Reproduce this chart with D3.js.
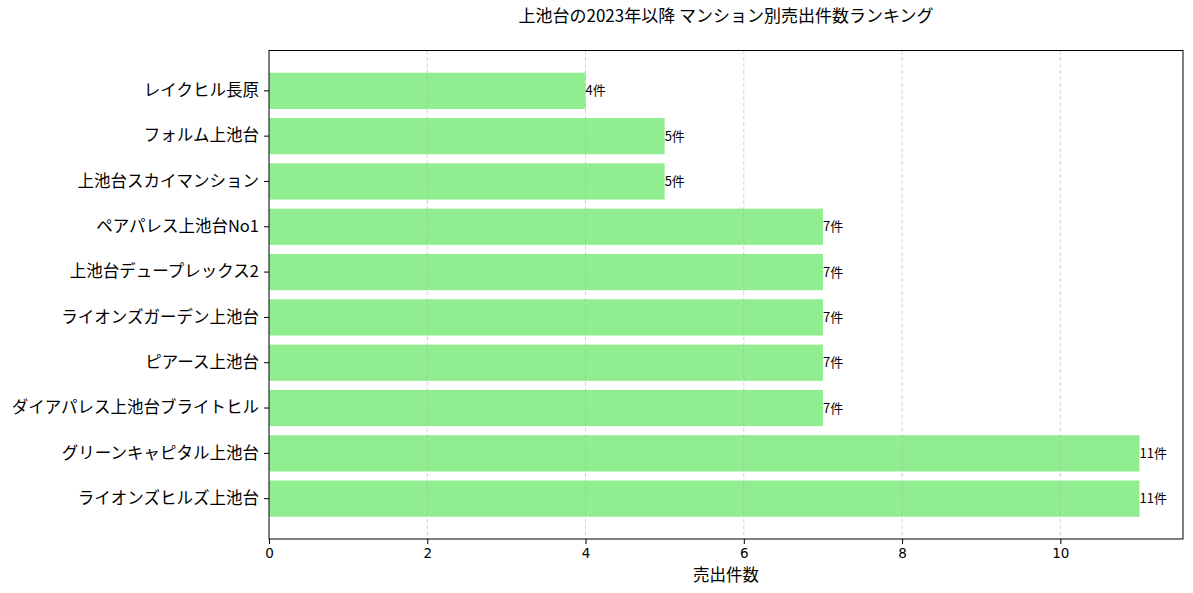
<!DOCTYPE html>
<meta charset="utf-8">
<script src="https://cdn.jsdelivr.net/npm/d3@7"></script>
<style>
  body { margin: 0; background: #fff; }
  text { font-family: "Noto Sans CJK JP", "Noto Sans", sans-serif; fill: #000; }
</style>
<div id="chart"></div>
<script>

// data, listed top to bottom as on the chart
const names = [
  "レイクヒル長原",
  "フォルム上池台",
  "上池台スカイマンション",
  "ペアパレス上池台No1",
  "上池台デュープレックス2",
  "ライオンズガーデン上池台",
  "ピアース上池台",
  "ダイアパレス上池台ブライトヒル",
  "グリーンキャピタル上池台",
  "ライオンズヒルズ上池台"
];
const counts = [4, 5, 5, 7, 7, 7, 7, 7, 11, 11];
const xTicks = [0, 2, 4, 6, 8, 10];
const titleText = "上池台の2023年以降 マンション別売出件数ランキング";
const xLabel = "売出件数";

const data = names.map((n, i) => ({name: n, count: counts[i]}));

// plot box
const W = 1193, H = 593;
const margin = {top: 50.5, right: 10, bottom: 54, left: 269};
const width = W - margin.left - margin.right,
      height = H - margin.top - margin.bottom;

const svg = d3.select("#chart")
  .append("svg")
  .attr("width", W)
  .attr("height", H);

const g = svg.append("g")
  .attr("transform", `translate(${margin.left}, ${margin.top})`);

// x like matplotlib with 5% margin
const x = d3.scaleLinear()
  .domain([0, d3.max(counts) * 1.05])
  .range([0, width]);

const y = d3.scaleBand()
  .domain(names)
  .range([0, height])
  .paddingInner(0.2)
  .paddingOuter(0.49);

// bars
g.append("g")
  .selectAll("rect")
  .data(data)
  .join("rect")
    .attr("x", x(0))
    .attr("y", d => y(d.name))
    .attr("width", d => x(d.count) - x(0))
    .attr("height", y.bandwidth())
    .attr("fill", "#90ee90");

// grid (drawn over bars, faint)
g.append("g")
  .selectAll("line")
  .data(xTicks.filter(t => t > 0))
  .join("line")
    .attr("x1", d => x(d)).attr("x2", d => x(d))
    .attr("y1", 0).attr("y2", height)
    .attr("stroke", "#b0b0b0")
    .attr("stroke-opacity", 0.7)
    .attr("stroke-width", 0.8)
    .attr("stroke-dasharray", "4,2.5");

// value labels
g.append("g")
  .selectAll("text")
  .data(data)
  .join("text")
    .attr("x", d => x(d.count))
    .attr("y", d => y(d.name) + y.bandwidth() / 2)
    .attr("dy", "0.35em")
    .style("font-size", "13px")
    .text(d => d.count + "件");

// axes
const xAxis = g.append("g")
  .attr("transform", `translate(0, ${height})`)
  .call(d3.axisBottom(x).tickValues(xTicks).tickSize(5).tickPadding(4).tickFormat(d3.format("d")));
xAxis.select(".domain").remove();
xAxis.selectAll("text").style("font-size", "13.5px").style("font-family", "'DejaVu Sans', sans-serif");

const yAxis = g.append("g")
  .call(d3.axisLeft(y).tickSize(5).tickPadding(5));
yAxis.select(".domain").remove();
yAxis.selectAll("text").style("font-size", "16.5px");

// frame
g.append("rect")
  .attr("width", width)
  .attr("height", height)
  .attr("fill", "none")
  .attr("stroke", "#000")
  .attr("stroke-width", 1);

// titles
svg.append("text")
  .attr("x", margin.left + width / 2)
  .attr("y", 22)
  .attr("text-anchor", "middle")
  .style("font-size", "17px")
  .text(titleText);

svg.append("text")
  .attr("x", margin.left + width / 2)
  .attr("y", 581)
  .attr("text-anchor", "middle")
  .style("font-size", "16.5px")
  .text(xLabel);

</script>
